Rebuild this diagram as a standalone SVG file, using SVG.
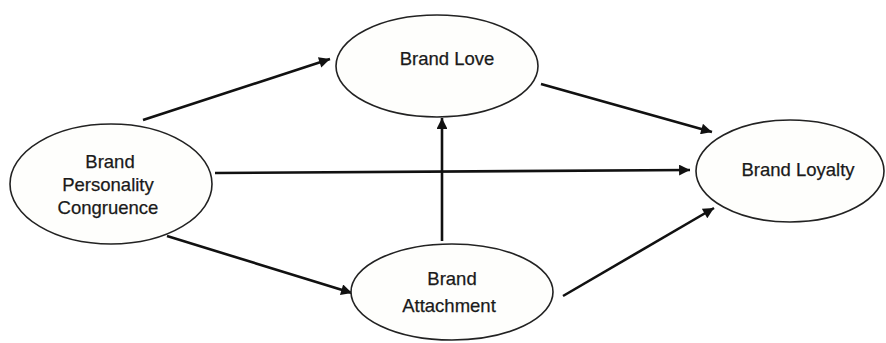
<svg xmlns="http://www.w3.org/2000/svg" width="886" height="343" viewBox="0 0 886 343">
<defs>
<style>
.node ellipse{fill:#fefefc;stroke:#222;stroke-width:1.6}
.node text{font-family:"Liberation Sans",Arial,sans-serif;font-size:18.5px;fill:#1a1a1a;stroke:#1a1a1a;stroke-width:0.25;text-anchor:middle}
.edges line{stroke:#111;stroke-width:2.6}
</style>
<marker id="ah" viewBox="0 0 10 10" refX="10" refY="5" markerWidth="5" markerHeight="4.2" markerUnits="strokeWidth" orient="auto">
<path d="M0,0 L10,5 L0,10 z" fill="#111"/>
</marker>
</defs>
<rect width="886" height="343" fill="#fff"/>
<g class="edges">
<line x1="143" y1="120" x2="330" y2="59" marker-end="url(#ah)"/>
<line x1="541" y1="84" x2="712" y2="132" marker-end="url(#ah)"/>
<line x1="215" y1="173" x2="690" y2="170" marker-end="url(#ah)"/>
<line x1="167" y1="236" x2="352" y2="293" marker-end="url(#ah)"/>
<line x1="442" y1="241" x2="442" y2="118" marker-end="url(#ah)"/>
<line x1="563" y1="296" x2="714" y2="208" marker-end="url(#ah)"/>
</g>
<g id="bpc" class="node">
<ellipse cx="111" cy="184" rx="101" ry="60"/>
<text x="110" y="168">Brand</text>
<text x="108" y="191">Personality</text>
<text x="108" y="214">Congruence</text>
</g>
<g id="love" class="node">
<ellipse cx="437" cy="66" rx="101" ry="51"/>
<text x="447" y="65">Brand Love</text>
</g>
<g id="attach" class="node">
<ellipse cx="452" cy="292" rx="101" ry="48"/>
<text x="452" y="285">Brand</text>
<text x="449" y="312">Attachment</text>
</g>
<g id="loyalty" class="node">
<ellipse cx="790" cy="171" rx="94" ry="51"/>
<text x="798" y="176">Brand Loyalty</text>
</g>
</svg>
